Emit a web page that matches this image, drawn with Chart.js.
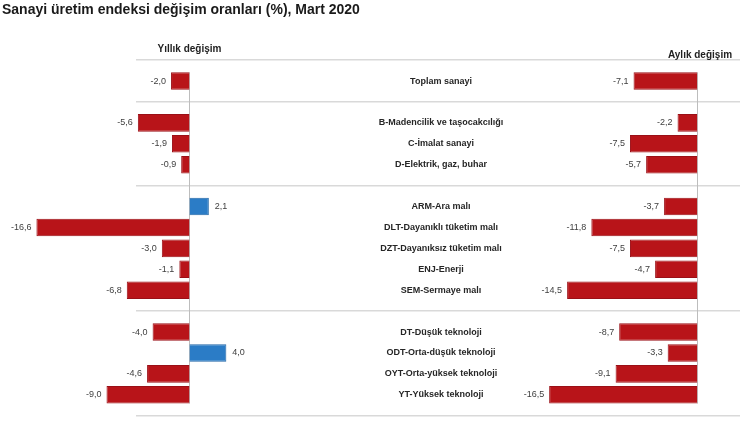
<!DOCTYPE html>
<html>
<head>
<meta charset="utf-8">
<script src="https://cdn.jsdelivr.net/npm/chart.js@4/dist/chart.umd.min.js"></script>
<style>
  html, body { margin: 0; padding: 0; background: #fff; }
  #wrap { position: relative; width: 740px; height: 428px; }
</style>
</head>
<body>
<div id="wrap"><canvas id="chart"></canvas></div>
<script>
// empty strings are spacer rows; a separator line is drawn through them
const categories = [
  '', 'Toplam sanayi',
  '', 'B-Madencilik ve taşocakcılığı', 'C-İmalat sanayi', 'D-Elektrik, gaz, buhar',
  '', 'ARM-Ara malı', 'DLT-Dayanıklı tüketim malı', 'DZT-Dayanıksız tüketim malı', 'ENJ-Enerji', 'SEM-Sermaye malı',
  '', 'DT-Düşük teknoloji', 'ODT-Orta-düşük teknoloji', 'OYT-Orta-yüksek teknoloji', 'YT-Yüksek teknoloji',
  ''
];
const yearly = [null, -2.0, null, -5.6, -1.9, -0.9, null, 2.1, -16.6, -3.0, -1.1, -6.8, null, -4.0, 4.0, -4.6, -9.0, null];
const monthly = [null, -7.1, null, -2.2, -7.5, -5.7, null, -3.7, -11.8, -7.5, -4.7, -14.5, null, -8.7, -3.3, -9.1, -16.5, null];

const titleText = 'Sanayi üretim endeksi değişim oranları (%), Mart 2020';
const yearlyTitle = 'Yıllık değişim';
const monthlyTitle = 'Aylık değişim';

const RED = '#b81419', RED_DARK = '#9a1017';
const BLUE = '#2b7cc6', BLUE_DARK = '#2066a6';
const FONT = '"Liberation Sans", Arial, sans-serif';

const fmt = v => v.toFixed(1).replace('.', ',');

const textPlugin = {
  id: 'textPlugin',
  beforeDatasetsDraw(chart) {
    const ctx = chart.ctx;
    ctx.save();
    ctx.strokeStyle = '#bdbdbd';
    ctx.lineWidth = 1;
    chart.data.datasets.forEach((ds, i) => {
      const bars = chart.getDatasetMeta(i).data.filter((el, j) => ds.data[j] !== null);
      const first = bars[0], last = bars[bars.length - 1];
      const x = Math.round(first.base) + 0.5;
      ctx.beginPath();
      ctx.moveTo(x, first.y - first.height / 2);
      ctx.lineTo(x, last.y + last.height / 2);
      ctx.stroke();
    });
    ctx.restore();
  },
  afterDatasetsDraw(chart) {
    const ctx = chart.ctx;
    const y = chart.scales.y;
    ctx.save();

    // value labels
    ctx.font = '9px ' + FONT;
    ctx.fillStyle = '#404040';
    ctx.textBaseline = 'middle';
    chart.data.datasets.forEach((ds, i) => {
      chart.getDatasetMeta(i).data.forEach((el, j) => {
        const v = ds.data[j];
        if (v === null) return;
        if (v < 0) {
          ctx.textAlign = 'right';
          ctx.fillText(fmt(v), el.x - 5, el.y);
        } else {
          ctx.textAlign = 'left';
          ctx.fillText(fmt(v), el.x + 6, el.y);
        }
      });
    });

    // category labels in the middle
    ctx.font = 'bold 9px ' + FONT;
    ctx.fillStyle = '#262626';
    ctx.textAlign = 'center';
    categories.forEach((c, i) => {
      if (c) ctx.fillText(c, 441, y.getPixelForValue(i));
    });

    // panel headings
    ctx.font = 'bold 10px ' + FONT;
    ctx.fillStyle = '#222';
    ctx.fillText(yearlyTitle, chart.scales.xl.getPixelForValue(0), 49);
    ctx.fillText(monthlyTitle, 700, 55);

    // title
    ctx.font = 'bold 14px ' + FONT;
    ctx.fillStyle = '#1a1a1a';
    ctx.textAlign = 'left';
    ctx.textBaseline = 'alphabetic';
    ctx.fillText(titleText, 2, 14);
    ctx.restore();
  }
};

new Chart(document.getElementById('chart'), {
  type: 'bar',
  data: {
    labels: categories,
    datasets: [
      {
        label: yearlyTitle,
        data: yearly,
        xAxisID: 'xl',
        backgroundColor: yearly.map(v => v > 0 ? BLUE : RED),
        borderColor: yearly.map(v => v > 0 ? BLUE_DARK : RED_DARK),
        borderWidth: 1,
        clip: false
      },
      {
        label: monthlyTitle,
        data: monthly,
        xAxisID: 'xr',
        backgroundColor: monthly.map(v => v > 0 ? BLUE : RED),
        borderColor: monthly.map(v => v > 0 ? BLUE_DARK : RED_DARK),
        borderWidth: 1,
        clip: false
      }
    ]
  },
  options: {
    indexAxis: 'y',
    responsive: true,
    maintainAspectRatio: false,
    animation: false,
    grouped: false,
    barPercentage: 0.84,
    categoryPercentage: 1,
    layout: { padding: { left: 136, right: 0, top: 49.7, bottom: 1.8 } },
    plugins: {
      legend: { display: false },
      title: { display: false },
      tooltip: { enabled: false }
    },
    scales: {
      y: {
        ticks: { display: false },
        border: { display: false },
        grid: {
          offset: false,
          drawTicks: false,
          lineWidth: 1.5,
          color: c => categories[c.index] === '' ? '#d9d9d9' : 'rgba(0,0,0,0)'
        },
        afterFit: s => { s.width = 0; }
      },
      xl: {
        type: 'linear',
        position: 'bottom',
        display: false,
        min: -5.8,
        max: 59.71
      },
      xr: {
        type: 'linear',
        position: 'bottom',
        display: false,
        min: -62.51,
        max: 4.755
      }
    }
  },
  plugins: [textPlugin]
});
</script>
</body>
</html>
